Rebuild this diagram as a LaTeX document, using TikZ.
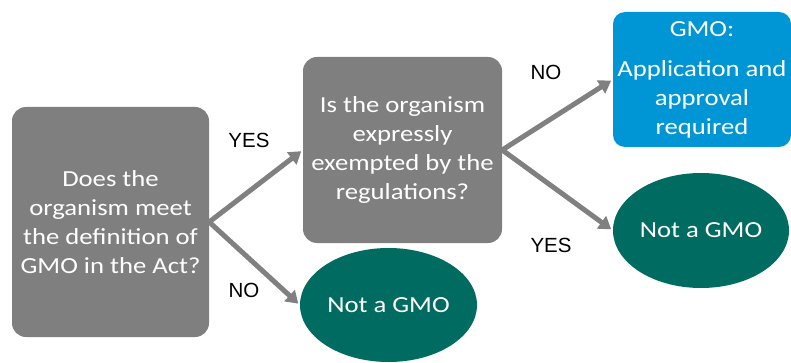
\documentclass[tikz,border=0pt]{standalone}
\usepackage{fontspec}
\setmainfont{Carlito}
\newfontfamily\boxfont[FakeStretch=1.16]{Carlito}
\newfontfamily\labfont{Liberation Sans}
\usetikzlibrary{shapes.geometric,arrows.meta}
\definecolor{boxgray}{RGB}{127,127,127}
\definecolor{arrgray}{RGB}{128,128,128}
\definecolor{teal}{RGB}{0,107,96}
\definecolor{gmoblue}{RGB}{0,150,214}
\begin{document}
\begin{tikzpicture}[x=1pt,y=-1pt,
  qbox/.style={rectangle,rounded corners=14pt,fill=boxgray,text=white,align=center,inner sep=0pt,
    font=\boxfont\fontsize{23}{29}\selectfont},
  bbox/.style={rectangle,rounded corners=12pt,fill=gmoblue,text=white,align=center,inner sep=0pt,
    font=\boxfont\fontsize{23}{29}\selectfont},
  oval/.style={ellipse,fill=teal,text=white,inner sep=0pt,font=\boxfont\fontsize{23}{29}\selectfont},
  arr/.style={draw=arrgray,line width=5pt,-{Triangle[length=12pt,width=15pt]},shorten >=2pt},
  lab/.style={font=\labfont\fontsize{20.5}{24}\selectfont,text=black,inner sep=0pt}
]
\useasboundingbox (0,0) rectangle (791,363);
\node[qbox,minimum width=197pt,minimum height=230pt] (q1) at (110.5,222) {Does the\\organism meet\\the definition of\\GMO in the Act?};
\node[qbox,minimum width=199pt,minimum height=186pt] (q2) at (402.5,150) {Is the organism\\expressly\\exempted by the\\regulations?};
\node[bbox,minimum width=178pt,minimum height=135pt] (gmo) at (702,79.5) {GMO:\\[11pt]Application and\\approval\\required};
\node[oval,minimum width=177pt,minimum height=114pt] (n1) at (388.5,305) {Not a GMO};
\node[oval,minimum width=176pt,minimum height=115pt] (n2) at (701,230.5) {Not a GMO};
\draw[arr] (q1.east) -- (q2.west);
\draw[arr] (q1.east) -- (n1.west);
\draw[arr] (q2.east) -- (gmo.west);
\draw[arr] (q2.east) -- (n2.west);
\node[lab] (l1) at (249,140) {YES};
\node[lab] (l2) at (244,290) {NO};
\node[lab] (l3) at (546,72) {NO};
\node[lab] (l4) at (551,245) {YES};
\end{tikzpicture}
\end{document}
